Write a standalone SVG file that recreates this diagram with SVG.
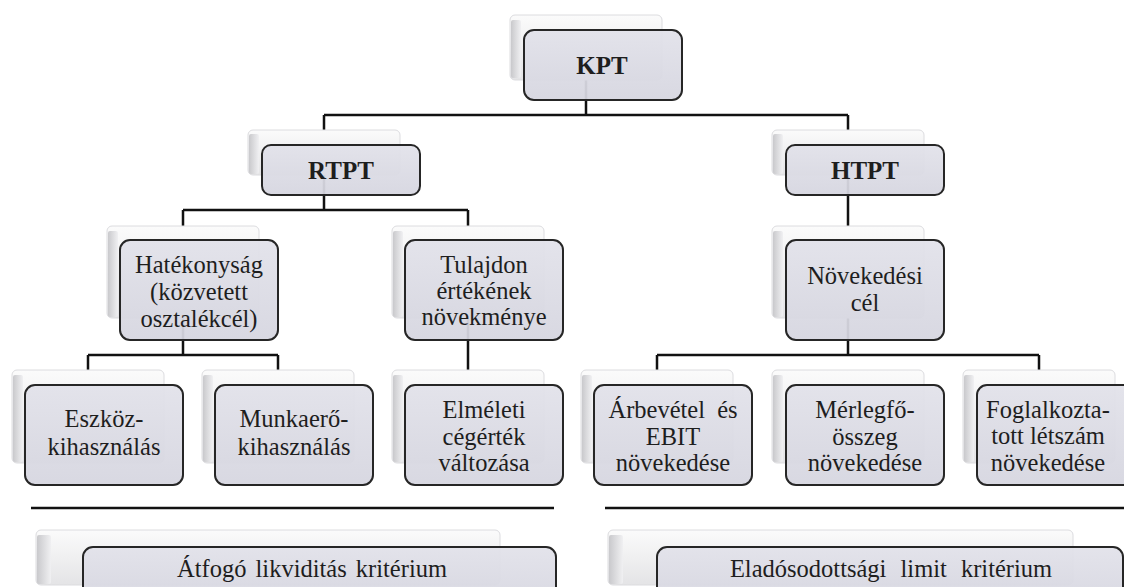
<svg xmlns="http://www.w3.org/2000/svg" width="1124" height="587" viewBox="0 0 1124 587">
<defs>
<linearGradient id="bg" x1="0" y1="0" x2="0" y2="1">
<stop offset="0" stop-color="#fbfbfb"/>
<stop offset="1" stop-color="#e4e4e6"/>
</linearGradient>
<linearGradient id="bevel" x1="0" y1="0" x2="1" y2="0">
<stop offset="0" stop-color="#c9c9cc"/>
<stop offset="1" stop-color="#f0f0f2"/>
</linearGradient>
<linearGradient id="fg" x1="0" y1="0" x2="0" y2="1">
<stop offset="0" stop-color="#e2e2ea"/>
<stop offset="1" stop-color="#d6d6e0"/>
</linearGradient>
</defs>
<style>
.back{fill:url(#bg);stroke:#dcdcdf;stroke-width:1}
.bev{fill:url(#bevel)}
.front{fill:url(#fg);fill-opacity:0.94;stroke:#262626;stroke-width:2}
text{font-family:Liberation Serif, Times New Roman, Times, Nimbus Roman, Noto Serif, DejaVu Serif, serif;font-size:24.5px;fill:#1e1e1e;text-anchor:middle}
.b{font-weight:bold;font-size:25px}
.c{fill:none;stroke:#111;stroke-width:2.5}
</style>
<rect width="1124" height="587" fill="#ffffff"/>
<g id="connectors">
<path class="c" d="M586 60V115M324 115H848M324 115V150M848 115V150"/>
<path class="c" d="M324 170V210M183 210H468M183 210V250M468 210V250M848 170V250"/>
<path class="c" d="M183 300V355M88 355H278M88 355V390M278 355V390M468 300V390"/>
<path class="c" d="M848 300V355M657 355H1039M657 355V390M1039 355V390"/>
<path class="c" d="M31 508H554M605 508H1124"/>
</g>
<g id="KPT">
<rect class="back" x="510" y="15" width="152" height="65" rx="5"/>
<rect class="bev" x="511" y="20" width="10" height="58" rx="2"/>
<rect class="front" x="524" y="30" width="158" height="70" rx="10"/>
<text class="b" x="602" y="74">KPT</text>
</g>
<g id="RTPT">
<rect class="back" x="248" y="130" width="152" height="45" rx="5"/>
<rect class="bev" x="249" y="134" width="10" height="40" rx="2"/>
<rect class="front" x="262" y="145" width="158" height="50" rx="9"/>
<text class="b" x="341" y="179">RTPT</text>
</g>
<g id="HTPT">
<rect class="back" x="772" y="130" width="152" height="45" rx="5"/>
<rect class="bev" x="773" y="134" width="10" height="40" rx="2"/>
<rect class="front" x="786" y="145" width="158" height="50" rx="9"/>
<text class="b" x="865" y="179">HTPT</text>
</g>
<g id="hatekonysag">
<rect class="back" x="107" y="226" width="152" height="92" rx="5"/>
<rect class="bev" x="108" y="231" width="10" height="86" rx="2"/>
<rect class="front" x="120" y="240" width="158" height="100" rx="10"/>
<text x="199" y="273">Hatékonyság</text>
<text x="199" y="300">(közvetett</text>
<text x="199" y="327">osztalékcél)</text>
</g>
<g id="tulajdon">
<rect class="back" x="392" y="226" width="152" height="92" rx="5"/>
<rect class="bev" x="393" y="231" width="10" height="86" rx="2"/>
<rect class="front" x="405" y="240" width="158" height="100" rx="10"/>
<text x="484" y="273">Tulajdon</text>
<text x="484" y="299">értékének</text>
<text x="484" y="325">növekménye</text>
</g>
<g id="novekedesi">
<rect class="back" x="772" y="226" width="152" height="92" rx="5"/>
<rect class="bev" x="773" y="231" width="10" height="86" rx="2"/>
<rect class="front" x="786" y="240" width="158" height="100" rx="10"/>
<text x="865" y="284">Növekedési</text>
<text x="865" y="311">cél</text>
</g>
<g id="eszkoz">
<rect class="back" x="12" y="370" width="152" height="93" rx="5"/>
<rect class="bev" x="13" y="375" width="10" height="87" rx="2"/>
<rect class="front" x="25" y="385" width="158" height="100" rx="10"/>
<text x="104" y="427">Eszköz-</text>
<text x="104" y="455">kihasználás</text>
</g>
<g id="munkaero">
<rect class="back" x="202" y="370" width="152" height="93" rx="5"/>
<rect class="bev" x="203" y="375" width="10" height="87" rx="2"/>
<rect class="front" x="215" y="385" width="158" height="100" rx="10"/>
<text x="294" y="427">Munkaerő-</text>
<text x="294" y="455">kihasználás</text>
</g>
<g id="elmeleti">
<rect class="back" x="392" y="370" width="152" height="93" rx="5"/>
<rect class="bev" x="393" y="375" width="10" height="87" rx="2"/>
<rect class="front" x="405" y="385" width="158" height="100" rx="10"/>
<text x="484" y="418">Elméleti</text>
<text x="484" y="445">cégérték</text>
<text x="484" y="471">változása</text>
</g>
<g id="arbevetel">
<rect class="back" x="581" y="370" width="152" height="93" rx="5"/>
<rect class="bev" x="582" y="375" width="10" height="87" rx="2"/>
<rect class="front" x="594" y="385" width="158" height="100" rx="10"/>
<text x="673" y="418" word-spacing="6">Árbevétel és</text>
<text x="673" y="445">EBIT</text>
<text x="673" y="471">növekedése</text>
</g>
<g id="merlegfo">
<rect class="back" x="772" y="370" width="152" height="93" rx="5"/>
<rect class="bev" x="773" y="375" width="10" height="87" rx="2"/>
<rect class="front" x="786" y="385" width="158" height="100" rx="10"/>
<text x="865" y="418">Mérlegfő-</text>
<text x="865" y="445">összeg</text>
<text x="865" y="471">növekedése</text>
</g>
<g id="foglalkoztatott">
<rect class="back" x="963" y="370" width="152" height="93" rx="5"/>
<rect class="bev" x="964" y="375" width="10" height="87" rx="2"/>
<rect class="front" x="977" y="385" width="158" height="100" rx="10"/>
<text x="1048" y="418">Foglalkozta-</text>
<text x="1048" y="444">tott létszám</text>
<text x="1048" y="471">növekedése</text>
</g>
<g id="likviditas">
<rect class="back" x="36" y="530" width="464" height="55" rx="5"/>
<rect class="bev" x="37" y="535" width="14" height="49" rx="2"/>
<rect class="front" x="83" y="547" width="473" height="60" rx="10"/>
<text x="312" y="577" word-spacing="3">Átfogó likviditás kritérium</text>
</g>
<g id="eladosodottsag">
<rect class="back" x="608" y="530" width="465" height="55" rx="5"/>
<rect class="bev" x="609" y="535" width="14" height="49" rx="2"/>
<rect class="front" x="657" y="547" width="466" height="60" rx="10"/>
<text x="891" y="577" word-spacing="8">Eladósodottsági limit kritérium</text>
</g>
</svg>
